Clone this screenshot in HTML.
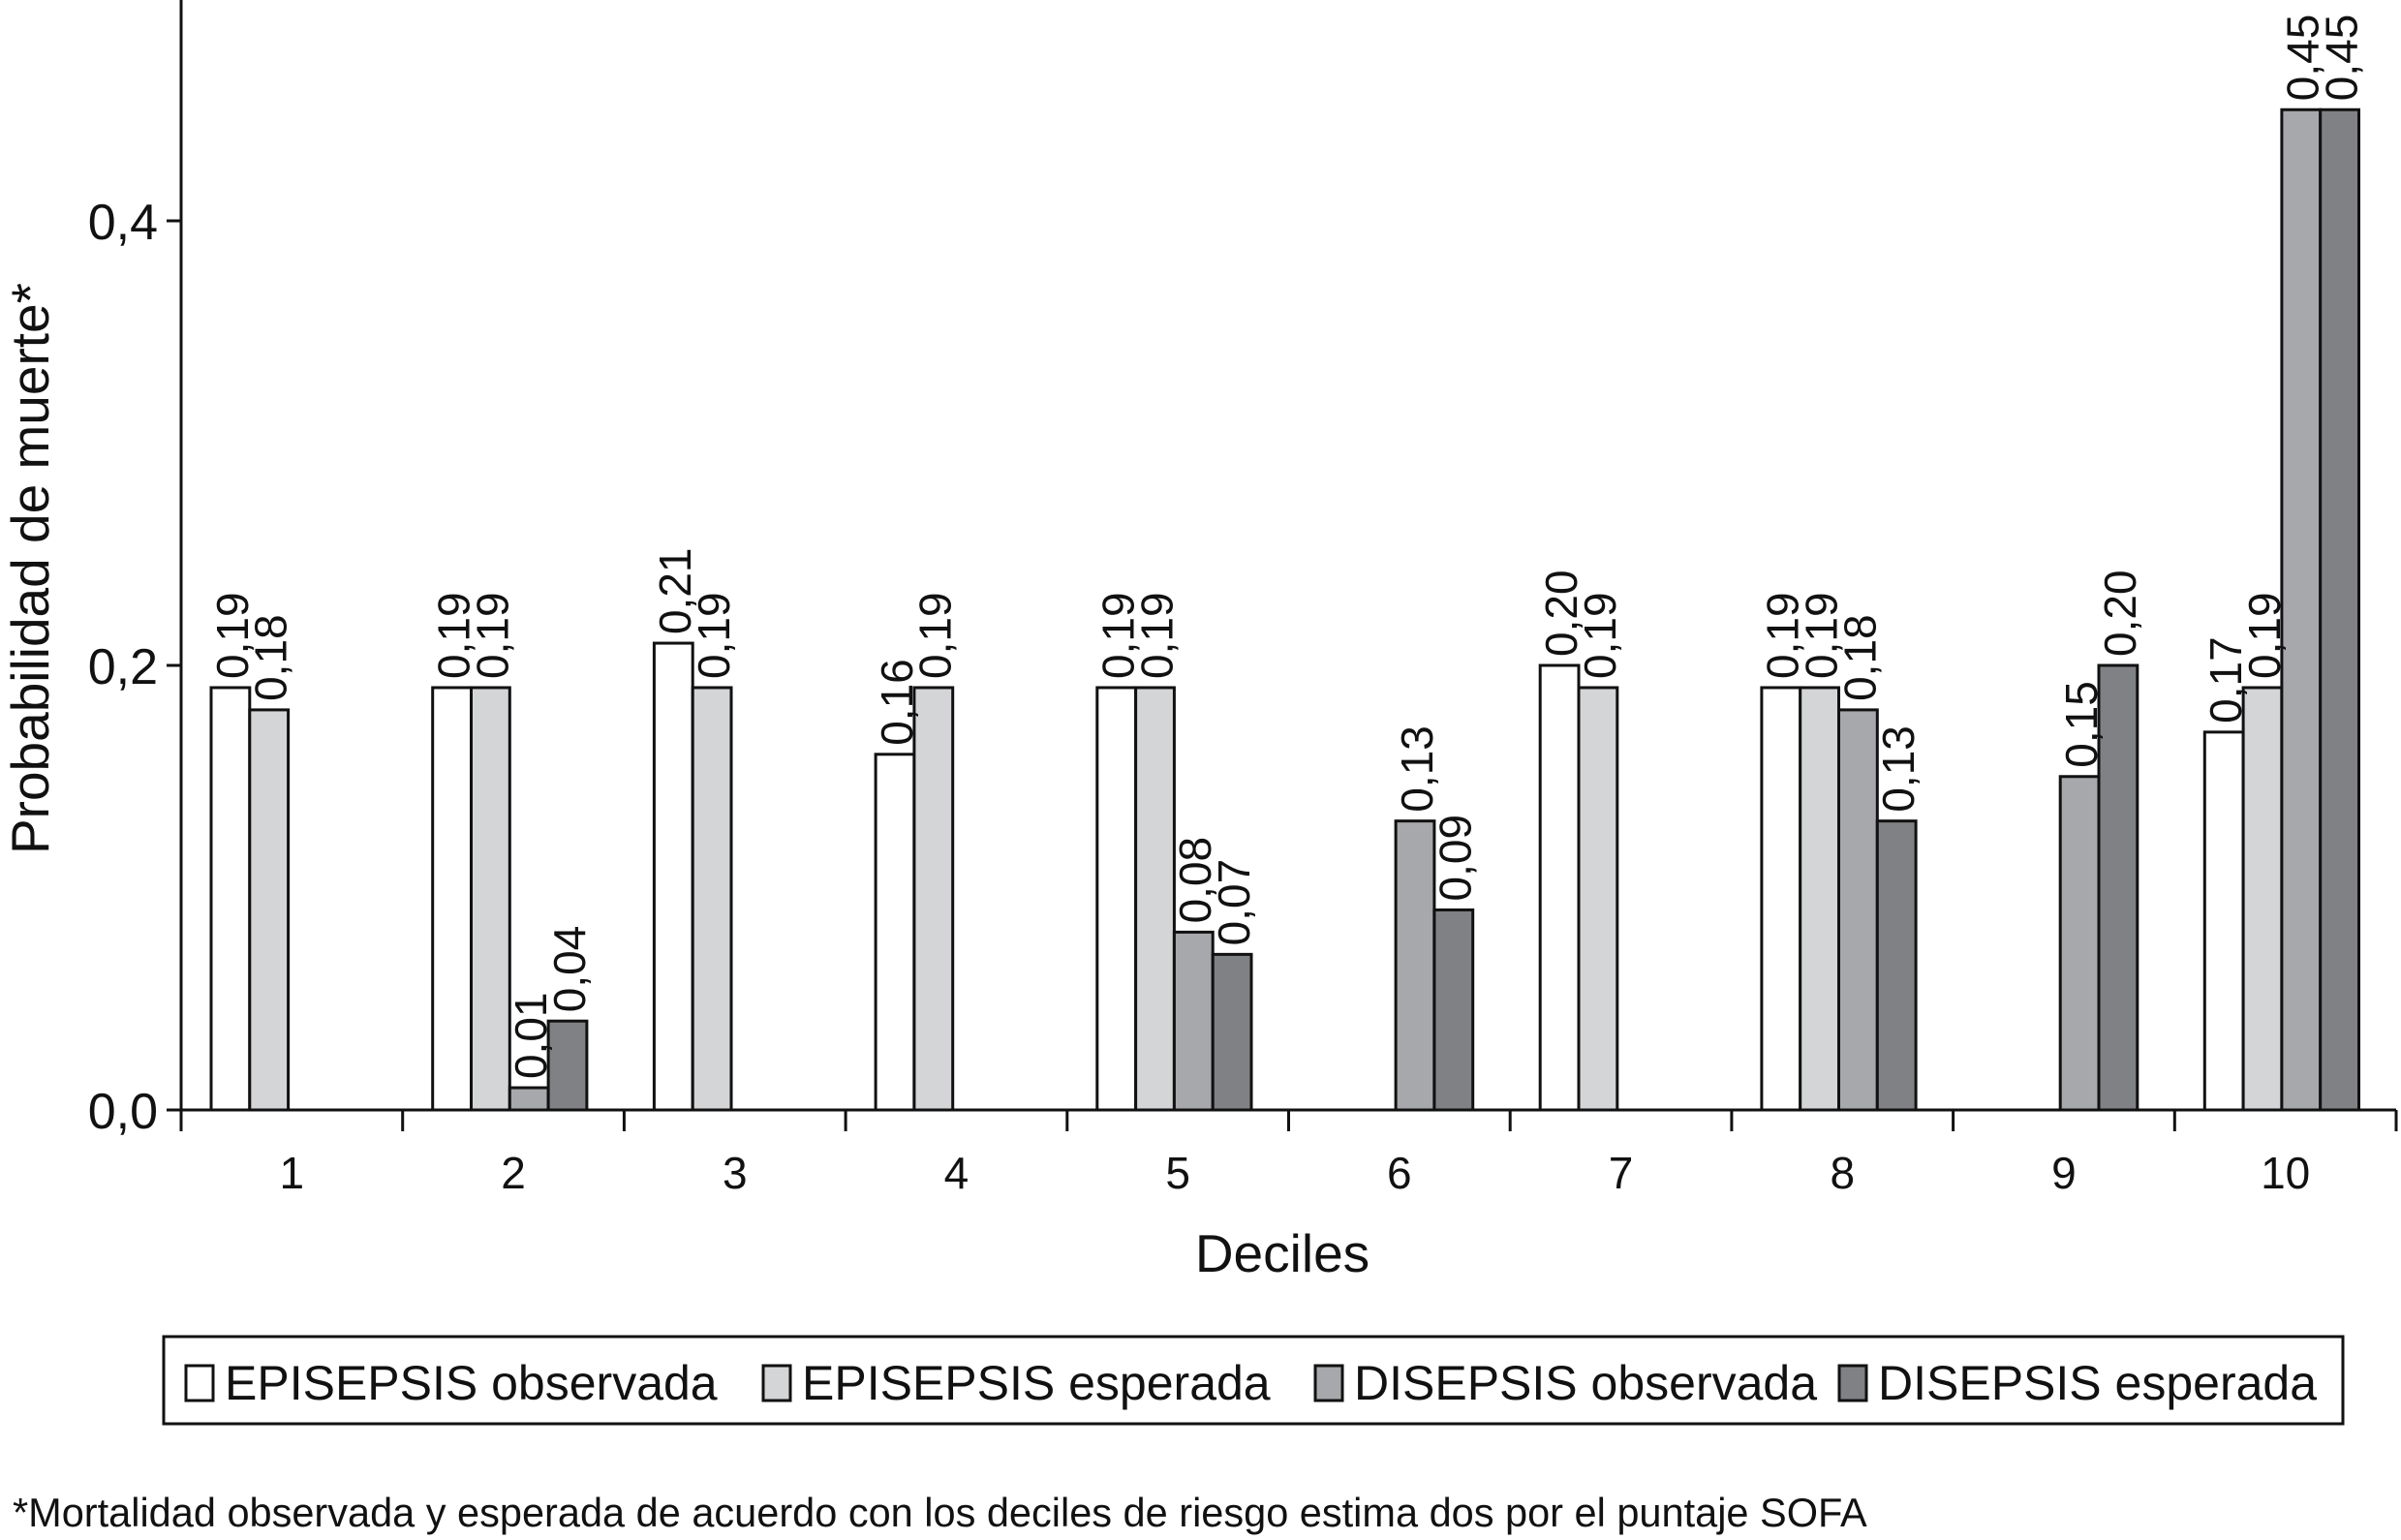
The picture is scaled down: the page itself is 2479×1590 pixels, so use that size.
<!DOCTYPE html>
<html><head><meta charset="utf-8"><style>
html,body{margin:0;padding:0;background:#fff;}
svg text{font-family:"Liberation Sans",Arial,sans-serif;fill:#111;}
</style></head><body>
<svg id="chart" width="2479" height="1585" viewBox="0 0 2479 1585" xmlns="http://www.w3.org/2000/svg">
<g id="axes"></g>
<g id="bars"></g>
<g id="labels"></g>
<text transform="translate(50,587) rotate(-90)" text-anchor="middle" font-size="55">Probabilidad de muerte*</text>
<text x="1324" y="1313" text-anchor="middle" font-size="55">Deciles</text>
<g>
<rect x="169" y="1380" width="2250" height="90" fill="#fff" stroke="#111" stroke-width="3"/>
<g id="legend-items"></g>
</g>
<text x="13" y="1576" font-size="41.5">*Mortalidad observada y esperada de acuerdo con los deciles de riesgo estima dos por el puntaje SOFA</text>
</svg>
<script>
const categories = ["1","2","3","4","5","6","7","8","9","10"];
const epiObs = [0.19,0.19,0.21,0.16,0.19,null,0.20,0.19,null,0.17];
const epiEsp = [0.18,0.19,0.19,0.19,0.19,null,0.19,0.19,null,0.19];
const disObs = [null,0.01,null,null,0.08,0.13,null,0.18,0.15,0.45];
const disEsp = [null,0.04,null,null,0.07,0.09,null,0.13,0.20,0.45];
const seriesNames = ["EPISEPSIS observada","EPISEPSIS esperada","DISEPSIS observada","DISEPSIS esperada"];
const yTicks = [0.0,0.2,0.4];
const yTickLabels = ["0,0","0,2","0,4"];

const NS="http://www.w3.org/2000/svg";
const colors=["#ffffff","#d4d5d7","#a7a8ab","#808185"];
const x0=187, x1=2474, y0=1146, pxPerUnit=459/0.2;
const gw=(x1-x0)/categories.length, bw=39.8, off=31;
function yScale(v){return y0-v*pxPerUnit;}
function xGroup(i){return x0+i*gw;}
function mk(tag,attrs,parent){const e=document.createElementNS(NS,tag);for(const k in attrs)e.setAttribute(k,attrs[k]);parent.appendChild(e);return e;}
const axes=document.getElementById('axes'),bars=document.getElementById('bars'),labels=document.getElementById('labels');
let l=mk('line',{x1:x0,y1:0,x2:x0,y2:y0,stroke:'#111','stroke-width':3},axes);


l=mk('line',{x1:x0,y1:y0,x2:x1,y2:y0,stroke:'#111','stroke-width':3},axes);


yTicks.forEach((v,i)=>{
  const t=mk('line',{x1:x0-15,y1:yScale(v),x2:x0,y2:yScale(v),stroke:'#111','stroke-width':3},axes);
  
  
  const tx=mk('text',{x:x0-24,y:yScale(v)+19,'text-anchor':'end','font-size':52},axes);
  tx.textContent=yTickLabels[i];
  
  
});
for(let i=0;i<=categories.length;i++){
  const t=mk('line',{x1:xGroup(i),y1:y0,x2:xGroup(i),y2:y0+22,stroke:'#111','stroke-width':3},axes);
  
  
}
categories.forEach((c,i)=>{
  const tx=mk('text',{x:xGroup(i)+gw/2,y:1227,'text-anchor':'middle','font-size':46},axes);
  tx.textContent=c;
  
  
});
const all=[epiObs,epiEsp,disObs,disEsp];
categories.forEach((c,i)=>{
  all.forEach((s,j)=>{
    const v=s[i]; if(v===null) return;
    const bx=xGroup(i)+off+j*bw, by=yScale(v);
    const r=mk('rect',{x:bx,y:by,width:bw,height:y0-by,fill:colors[j],stroke:'#111','stroke-width':3},bars);
    
    
    const ax=bx+bw-2, ay=by-9;
    const t=mk('text',{transform:`translate(${ax},${ay}) rotate(-90)`,'font-size':46},labels);
    t.textContent=v.toFixed(2).replace('.',',');
    
    
  });
});
const li=document.getElementById('legend-items');
const legX=[192,788,1358,1899];
seriesNames.forEach((n,j)=>{
  const g=mk('g',{},li);
  
  
  mk('rect',{x:legX[j],y:1410,width:28,height:36,fill:colors[j],stroke:'#111','stroke-width':3},g);
  const t=mk('text',{x:legX[j]+40,y:1445,'font-size':50},g);
  t.textContent=n;
});
</script>
</body></html>
